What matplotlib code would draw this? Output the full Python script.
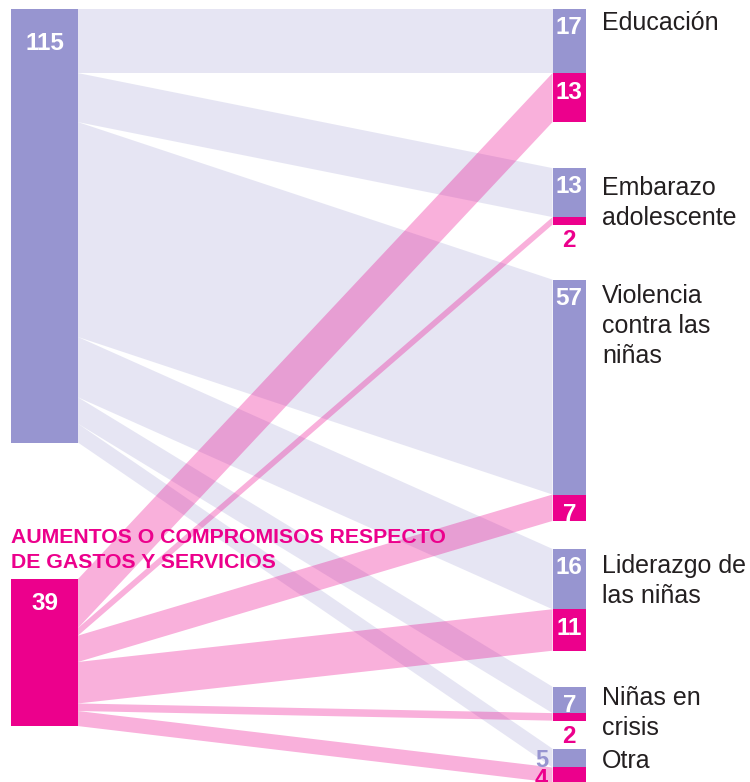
import matplotlib.pyplot as plt

plt.rcParams['font.family'] = ['Liberation Sans', 'DejaVu Sans']

# data
categories = ["Educación", "Embarazo\nadolescente", "Violencia\ncontra las\nniñas",
              "Liderazgo de\nlas niñas", "Niñas en\ncrisis", "Otra"]
general = [17, 13, 57, 16, 7, 5]      # purple source
gastos = [13, 2, 7, 11, 2, 4]         # magenta source
source_title = "AUMENTOS O COMPROMISOS RESPECTO\nDE GASTOS Y SERVICIOS"

# colours
PURPLE = '#9795d0'
MAGENTA = '#ec008c'

# layout (pixels)
k = 3.77                      # px per unit
lx0, lx1 = 11, 78             # left node columns
rx0, rx1 = 552.5, 586         # right node columns
left_top = 9
left_gap = 136.5
right_top = 9
right_gaps = [46, 55, 28, 36, 28]
label_offsets = [2, 8, 4, 5, -1, 0]

fig = plt.figure(figsize=(7.5, 7.82), dpi=100)
ax = fig.add_axes([0, 0, 1, 1])
ax.set_xlim(0, 750)
ax.set_ylim(782, 0)
ax.axis('off')

# right node positions
r_tops = []
y = right_top
for i in range(len(categories)):
    r_tops.append(y)
    y += (general[i] + gastos[i]) * k
    if i < len(right_gaps):
        y += right_gaps[i]

# left node positions
g_top = left_top
s_top = left_top + sum(general) * k + left_gap


def draw_flows(values, src_top, dst_offset, color, alpha):
    y0 = src_top
    for i, v in enumerate(values):
        h = v * k
        d0 = r_tops[i] + dst_offset[i]
        ax.fill([lx1, rx0, rx0, lx1], [y0, d0, d0 + h, y0 + h],
                color=color, alpha=alpha, lw=0)
        y0 += h


draw_flows(general, g_top, [0] * len(general), PURPLE, 0.24)
draw_flows(gastos, s_top, [g * k for g in general], MAGENTA, 0.31)

# left nodes
ax.fill([lx0, lx1, lx1, lx0], [g_top, g_top, g_top + sum(general) * k, g_top + sum(general) * k],
        color=PURPLE, lw=0)
ax.fill([lx0, lx1, lx1, lx0], [s_top, s_top, s_top + sum(gastos) * k, s_top + sum(gastos) * k],
        color=MAGENTA, lw=0)
ax.text((lx0 + lx1) / 2, g_top + 23, str(sum(general)), color='white', fontsize=17.5,
        fontweight='bold', ha='center', va='top')
ax.text((lx0 + lx1) / 2, s_top + 13, str(sum(gastos)), color='white', fontsize=17.5,
        fontweight='bold', ha='center', va='top')
ax.text(lx0, s_top - 51, source_title, color=MAGENTA, fontsize=15.3, fontweight='bold',
        ha='left', va='top', linespacing=1.38)

# right nodes
cx = (rx0 + rx1) / 2
for i, cat in enumerate(categories):
    t = r_tops[i]
    hg = general[i] * k
    hs = gastos[i] * k
    ax.fill([rx0, rx1, rx1, rx0], [t, t, t + hg, t + hg], color=PURPLE, lw=0)
    ax.fill([rx0, rx1, rx1, rx0], [t + hg, t + hg, t + hg + hs, t + hg + hs], color=MAGENTA, lw=0)
    last = i == len(categories) - 1
    # purple value
    if hg >= 24:
        ax.text(cx, t + 7, str(general[i]), color='white', fontsize=17.5,
                fontweight='bold', ha='center', va='top')
    else:
        ax.text(rx0 - 11, t, str(general[i]), color=PURPLE, fontsize=17,
                fontweight='bold', ha='center', va='top')
    # magenta value
    if hs >= 24:
        ax.text(cx, t + hg + 8, str(gastos[i]), color='white', fontsize=17.5,
                fontweight='bold', ha='center', va='top')
    elif last:
        ax.text(rx0 - 11, t + hg + 1, str(gastos[i]), color=MAGENTA, fontsize=17,
                fontweight='bold', ha='center', va='top')
    else:
        ax.text(cx, t + hg + hs + 4, str(gastos[i]), color=MAGENTA, fontsize=17.5,
                fontweight='bold', ha='center', va='top')
    ax.text(602, t + label_offsets[i], cat, color='#231f20', fontsize=18,
            ha='left', va='top', linespacing=1.33)

fig.savefig('out.png', dpi=100)
